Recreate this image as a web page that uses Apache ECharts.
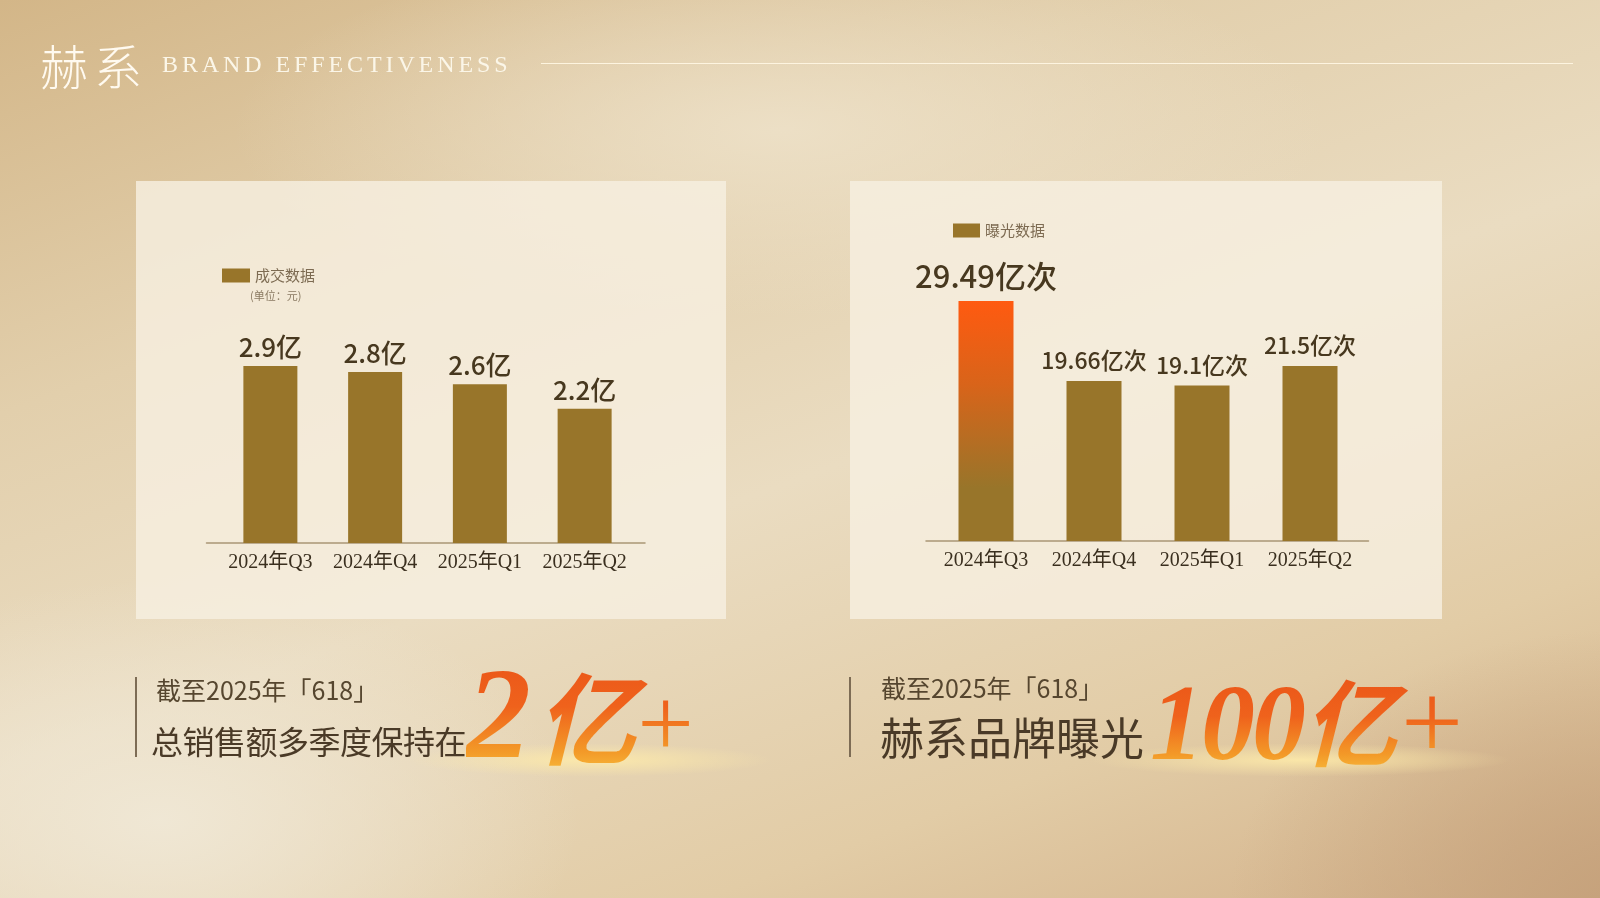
<!DOCTYPE html>
<html>
<head>
<meta charset="utf-8">
<script src="https://cdn.jsdelivr.net/npm/echarts@6/dist/echarts.min.js"></script>
<style>
html,body{margin:0;padding:0;width:1600px;height:898px;overflow:hidden;}
#bg{position:absolute;left:0;top:0;width:1600px;height:898px;
background:
 radial-gradient(ellipse 260px 24px at 590px 760px, rgba(255,236,170,0.85), rgba(255,236,170,0) 70%),
 radial-gradient(ellipse 300px 24px at 1300px 760px, rgba(255,236,170,0.85), rgba(255,236,170,0) 70%),
 radial-gradient(ellipse 560px 320px at 160px 820px, rgba(240,232,214,0.95), rgba(240,232,214,0) 75%),
 radial-gradient(ellipse 760px 260px at 780px 130px, rgba(238,226,202,0.85), rgba(238,226,202,0) 72%),
 radial-gradient(ellipse 520px 360px at 1620px 900px, rgba(196,160,122,0.9), rgba(196,160,122,0) 75%),
 linear-gradient(160deg, #d3b688 0%, #e2cfac 28%, #eadcc1 52%, #e2cca6 78%, #d2b089 100%);}
.panel{position:absolute;top:181px;height:438px;background:rgba(246,239,224,0.82);}
#chart{position:absolute;left:0;top:0;width:1600px;height:898px;}
.txt{position:absolute;white-space:nowrap;line-height:1;font-family:'Noto Sans CJK SC',sans-serif;}
.big{background:linear-gradient(180deg,#ea5418 0%,#ef621c 45%,#f39a28 80%,#f8c040 100%);
 -webkit-background-clip:text;background-clip:text;color:transparent;-webkit-text-fill-color:transparent;
 font-family:'Liberation Serif',serif;font-style:italic;font-weight:bold;letter-spacing:-3px;}
.big .cjk{font-family:'Noto Sans CJK SC',sans-serif;font-style:italic;font-weight:bold;font-size:94px;}
.big .plus{font-family:'Liberation Serif',serif;font-style:italic;font-weight:normal;font-size:110px;}
</style>
</head>
<body>
<div id="bg"></div>
<div class="panel" style="left:136px;width:590px;"></div>
<div class="panel" style="left:850px;width:592px;"></div>
<div id="chart"></div>

<div class="txt" style="left:40px;top:40px;font-size:48px;font-weight:300;letter-spacing:6px;color:#fffaf0;">赫系</div>
<div class="txt" style="left:162px;top:52px;font-family:'Liberation Serif',serif;font-size:24px;letter-spacing:3.9px;color:#fbf6e8;">BRAND EFFECTIVENESS</div>
<div style="position:absolute;left:541px;top:63px;width:1032px;height:1px;background:rgba(255,247,228,0.9);"></div>

<div style="position:absolute;left:135px;top:677px;width:2px;height:80px;background:#7d6c55;"></div>
<div class="txt" style="left:156px;top:677px;font-size:25px;color:#56462f;">截至2025年「618」</div>
<div class="txt" style="left:151px;top:724px;font-size:32px;letter-spacing:-0.5px;color:#4a3a27;">总销售额多季度保持在</div>
<div class="txt big" style="left:466px;top:648px;font-size:130px;">2<span class="cjk" style="font-size:100px;margin-left:8px;">亿</span><span class="plus" style="font-size:100px;margin-left:-2px;">+</span></div>

<div style="position:absolute;left:849px;top:677px;width:2px;height:80px;background:#7d6c55;"></div>
<div class="txt" style="left:881px;top:675px;font-size:25px;color:#56462f;">截至2025年「618」</div>
<div class="txt" style="left:880px;top:714px;font-size:44px;color:#4a3a27;">赫系品牌曝光</div>
<div class="txt big" style="left:1150px;top:667px;font-size:108px;">100<span class="cjk">亿</span><span class="plus">+</span></div>

<script>
// ---- data ----
const categories = ['2024年Q3', '2024年Q4', '2025年Q1', '2025年Q2'];
const salesValues = [2.9, 2.8, 2.6, 2.2];          // 成交数据（亿元）
const exposureValues = [29.49, 19.66, 19.1, 21.5]; // 曝光数据（亿次）
const salesName = '成交数据';
const exposureName = '曝光数据';
const salesUnit = '亿';
const exposureUnit = '亿次';
const unitNote = '(单位：元)';

// ---- styles ----
const BAR = '#98752a';
const LABEL = '#47381f';
const CJK = "'Noto Sans CJK SC', sans-serif";
const SERIF = "'Liberation Serif', 'Noto Sans CJK SC', serif";

const chart = echarts.init(document.getElementById('chart'), null, { renderer: 'canvas' });

const xLabel = { interval: 0, fontSize: 20, fontFamily: SERIF, color: '#3a2f1f', margin: 10 };

const exposureData = exposureValues.map((v, i) => i === 0 ? {
  value: v,
  itemStyle: {
    color: new echarts.graphic.LinearGradient(0, 0, 0, 1, [
      { offset: 0, color: '#ff5a10' },
      { offset: 0.35, color: '#d8641a' },
      { offset: 0.78, color: BAR },
      { offset: 1, color: BAR }
    ])
  },
  label: { fontSize: 31 }
} : v);

chart.setOption({
  backgroundColor: 'transparent',
  animation: false,
  textStyle: { fontFamily: CJK },
  legend: [
    { data: [salesName], left: 217, top: 263, icon: 'rect', itemWidth: 28, itemHeight: 14, itemGap: 5,
      textStyle: { fontSize: 15, color: '#7d6b52', fontFamily: CJK } },
    { data: [exposureName], left: 948, top: 218, icon: 'rect', itemWidth: 27, itemHeight: 14, itemGap: 5,
      textStyle: { fontSize: 15, color: '#7d6b52', fontFamily: CJK } }
  ],
  grid: [
    { left: 218, top: 329.4, width: 419, height: 213.6 },
    { left: 932, top: 256.2, width: 432, height: 284.8 },
    { left: 206.5, top: 329.4, width: 438.5, height: 213.6 },
    { left: 926, top: 256.2, width: 442.5, height: 284.8 }
  ],
  xAxis: [
    { gridIndex: 0, type: 'category', data: categories, axisLine: { show: false }, axisTick: { show: false }, axisLabel: xLabel },
    { gridIndex: 1, type: 'category', data: categories, axisLine: { show: false }, axisTick: { show: false }, axisLabel: xLabel },
    { gridIndex: 2, type: 'category', data: categories, axisLine: { show: true, lineStyle: { color: '#a99676', width: 1.5 } }, axisTick: { show: false }, axisLabel: { show: false } },
    { gridIndex: 3, type: 'category', data: categories, axisLine: { show: true, lineStyle: { color: '#a99676', width: 1.5 } }, axisTick: { show: false }, axisLabel: { show: false } }
  ],
  yAxis: [
    { gridIndex: 0, type: 'value', min: 0, max: 3.5, show: false },
    { gridIndex: 1, type: 'value', min: 0, max: 35, show: false },
    { gridIndex: 2, type: 'value', min: 0, max: 1, show: false },
    { gridIndex: 3, type: 'value', min: 0, max: 1, show: false }
  ],
  graphic: [
    { type: 'text', left: 250, top: 290, silent: true,
      style: { text: unitNote, fontSize: 11, fill: '#8a7a62', fontFamily: CJK } }
  ],
  series: [
    {
      name: salesName, type: 'bar', xAxisIndex: 0, yAxisIndex: 0,
      data: salesValues, barWidth: 54, itemStyle: { color: BAR },
      label: { show: true, position: 'top', distance: 6, fontSize: 26, fontWeight: 500, color: LABEL, fontFamily: CJK,
        formatter: p => p.value + salesUnit }
    },
    {
      name: exposureName, type: 'bar', xAxisIndex: 1, yAxisIndex: 1,
      data: exposureData, barWidth: 55, itemStyle: { color: BAR },
      label: { show: true, position: 'top', distance: 9, fontSize: 23, fontWeight: 500, color: LABEL, fontFamily: CJK,
        formatter: p => p.value + exposureUnit }
    }
  ]
});
</script>
</body>
</html>
